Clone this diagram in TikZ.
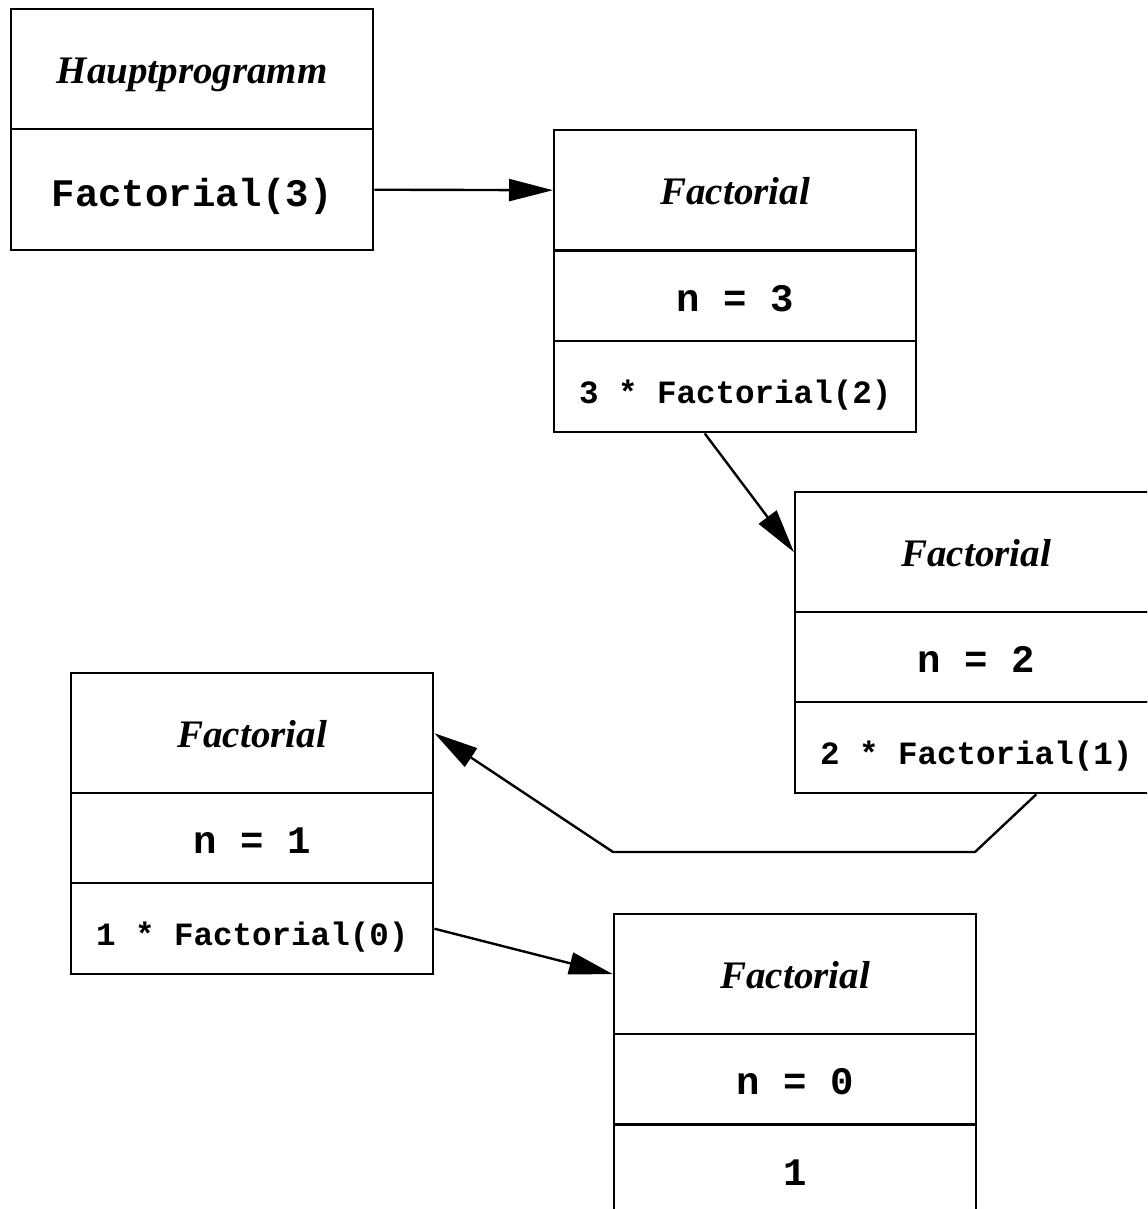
\documentclass[tikz,border=0pt]{standalone}
\usepackage{fontspec}
\setmainfont{Liberation Serif}
\setmonofont{Liberation Mono}
\usetikzlibrary{arrows.meta,calc}
\begin{document}
\begin{tikzpicture}[x=0.75pt,y=-0.75pt,
  cell/.style={draw, line width=1.8pt, minimum width=271.5pt, inner sep=0pt, anchor=north west, text depth=0pt},
  hA/.style={minimum height=90pt},
  hB/.style={minimum height=67.5pt},
  hC/.style={minimum height=68.25pt},
  ttl/.style={font=\fontsize{29.25}{32}\selectfont\bfseries\itshape, text height=21pt},
  code/.style={font=\fontsize{29.25}{32}\selectfont\ttfamily\bfseries, text height=22.5pt},
  scode/.style={font=\fontsize{24.4}{28}\selectfont\ttfamily\bfseries, text height=24.75pt},
  conn/.style={line width=1.8pt, -{Triangle[length=33pt,width=16.5pt]}}]
\useasboundingbox (0,0) rectangle (1147,1209);
\clip (0,0) rectangle (1147,1209);
% Box 1
\node[cell,hA,ttl] (b1a) at (10,8) {Hauptprogramm};
\node[cell,code,minimum height=90.75pt,text height=24.75pt] (b1b) at (10,128) {Factorial(3)};
% Box 2
\node[cell,hA,ttl] (b2a) at (553,129) {Factorial};
\node[cell,hB,code] (b2b) at (553,250) {n = 3};
\node[cell,hC,scode] (b2c) at (553,340) {3 * Factorial(2)};
% Box 3
\node[cell,hA,ttl] (b3a) at (794,491) {Factorial};
\node[cell,hB,code] (b3b) at (794,611) {n = 2};
\node[cell,hC,scode] (b3c) at (794,701) {2 * Factorial(1)};
% Box 4
\node[cell,hA,ttl] (b4a) at (70,672) {Factorial};
\node[cell,hB,code] (b4b) at (70,792) {n = 1};
\node[cell,hC,scode] (b4c) at (70,882) {1 * Factorial(0)};
% Box 5
\node[cell,hA,ttl] (b5a) at (613,913) {Factorial};
\node[cell,hB,code] (b5b) at (613,1033) {n = 0};
\node[cell,hC,code,text height=21.75pt] (b5c) at (613,1124) {1};
% connectors
\coordinate (k1) at (975,852);
\coordinate (k2) at (613,852);
\draw[conn] (b1b.east) -- (b2a.west);
\draw[conn] ($(b2c.south)+(-30.5,0)$) -- (b3a.west);
\draw[conn] ($(b3c.south)+(60,0)$) -- (k1) -- (k2) -- (b4a.east);
\draw[conn] (b4c.east) -- (b5a.west);
\end{tikzpicture}
\end{document}
